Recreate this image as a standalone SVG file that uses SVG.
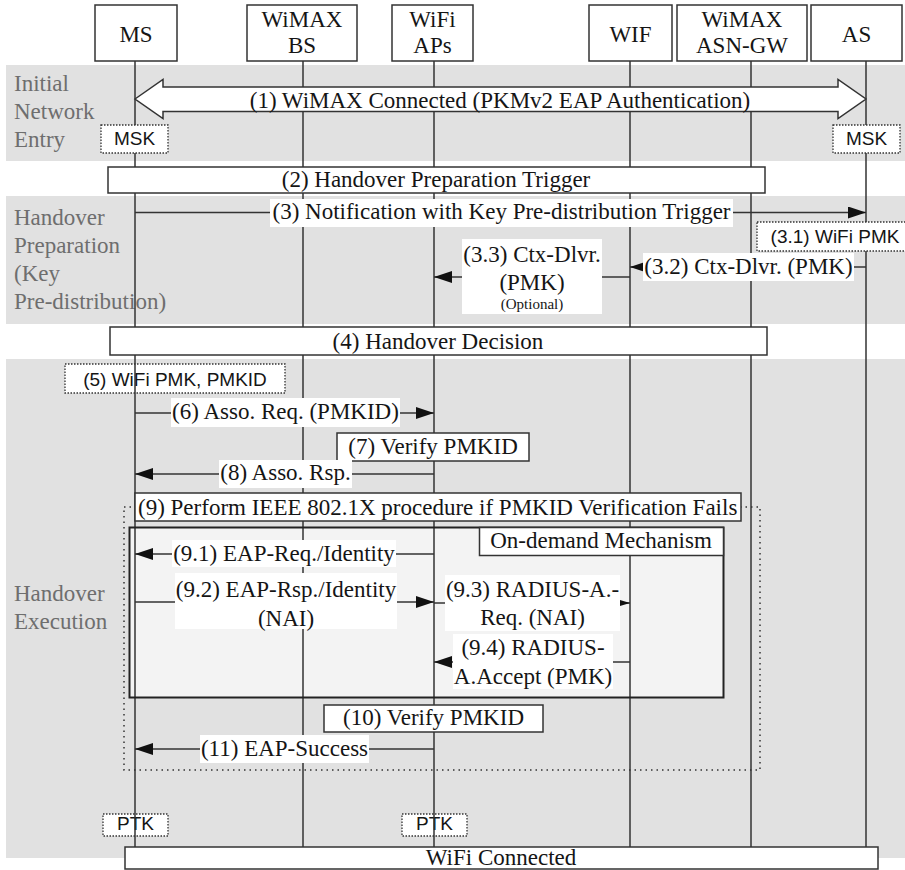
<svg xmlns="http://www.w3.org/2000/svg" width="905" height="870" viewBox="0 0 905 870">
<defs>
<style>
.t{font-family:"Liberation Serif","Times New Roman",serif;font-size:23px;fill:#151515}
.c{text-anchor:middle}
.band{font-family:"Liberation Serif","Times New Roman",serif;font-size:23px;fill:#6e6e6e}
.k{font-family:"Liberation Sans",Arial,sans-serif;font-size:19px;fill:#151515;text-anchor:middle}
.box{fill:#fff;stroke:#333;stroke-width:1.5}
.kbox{fill:#fff;stroke:#333;stroke-width:1.3;stroke-dasharray:1.5 1.5}
.life{stroke:#333;stroke-width:1.5}
.msg{stroke:#333;stroke-width:1.5;fill:none}
.bg{fill:#fff}
.gray{fill:#e1e1e1}
</style>
<marker id="ah" markerUnits="userSpaceOnUse" markerWidth="18" markerHeight="12" refX="18" refY="6" orient="auto">
<path d="M0,0 L18,6 L0,12 z" fill="#111"/>
</marker>
<marker id="ahs" markerUnits="userSpaceOnUse" markerWidth="10" markerHeight="6" refX="10" refY="3" orient="auto">
<path d="M0,0 L10,3 L0,6 z" fill="#111"/>
</marker>
</defs>
<rect width="905" height="870" fill="#fff"/>
<g id="phases">
<rect class="gray" x="6" y="65" width="899" height="96"/>
<rect class="gray" x="6" y="196" width="899" height="128"/>
<rect class="gray" x="6" y="359" width="899" height="499"/>
<text class="band" x="14" y="91">Initial</text>
<text class="band" x="14" y="119">Network</text>
<text class="band" x="14" y="147">Entry</text>
<text class="band" x="14" y="225">Handover</text>
<text class="band" x="14" y="253">Preparation</text>
<text class="band" x="14" y="281">(Key</text>
<text class="band" x="14" y="309">Pre-distribution)</text>
<text class="band" x="14" y="601">Handover</text>
<text class="band" x="14" y="629">Execution</text>
</g>
<g id="ondemand-fill">
<rect x="129.5" y="527.5" width="594" height="170" fill="#f3f3f3"/>
</g>
<g id="ieee-frame">
<rect x="124" y="507" width="636" height="263" fill="none" stroke="#333" stroke-width="1.5" stroke-dasharray="1.5 4"/>
</g>
<g id="key5">
<rect class="kbox" x="65" y="364" width="220" height="29"/>
<text class="k" x="175" y="386">(5) WiFi PMK, PMKID</text>
</g>
<g id="ptk-ms">
<rect class="kbox" x="103" y="814" width="65" height="22"/>
<text class="k" x="135.5" y="830">PTK</text>
</g>
<g id="ptk-ap">
<rect class="kbox" x="402" y="814" width="65" height="22"/>
<text class="k" x="434.5" y="830">PTK</text>
</g>
<g id="lifelines">
<line class="life" x1="135" y1="61" x2="135" y2="847"/>
<line class="life" x1="303" y1="61" x2="303" y2="847"/>
<line class="life" x1="434" y1="61" x2="434" y2="847"/>
<line class="life" x1="630" y1="61" x2="630" y2="847"/>
<line class="life" x1="751" y1="61" x2="751" y2="847"/>
<line class="life" x1="866" y1="61" x2="866" y2="847"/>
</g>
<g id="ondemand">
<rect x="129.5" y="527.5" width="594" height="170" fill="none" stroke="#222" stroke-width="2"/>
<rect class="box" x="479.5" y="527.5" width="244" height="28" stroke-width="2"/>
<text class="t c" x="601" y="548">On-demand Mechanism</text>
</g>
<g id="node-ms">
<rect class="box" x="95" y="5" width="82" height="56"/>
<text class="t c" x="136" y="42">MS</text>
</g>
<g id="node-bs">
<rect class="box" x="247" y="5" width="110" height="56"/>
<text class="t c" x="302" y="27">WiMAX</text>
<text class="t c" x="302" y="53">BS</text>
</g>
<g id="node-ap">
<rect class="box" x="392" y="5" width="81" height="56"/>
<text class="t c" x="432.5" y="27">WiFi</text>
<text class="t c" x="432.5" y="53">APs</text>
</g>
<g id="node-wif">
<rect class="box" x="589" y="5" width="83" height="56"/>
<text class="t c" x="630.5" y="42">WIF</text>
</g>
<g id="node-asn">
<rect class="box" x="677" y="5" width="130" height="56"/>
<text class="t c" x="742" y="27">WiMAX</text>
<text class="t c" x="742" y="53">ASN-GW</text>
</g>
<g id="node-as">
<rect class="box" x="811" y="5" width="91" height="56"/>
<text class="t c" x="856.5" y="42">AS</text>
</g>
<g id="msk-ms">
<rect class="kbox" x="101" y="125" width="67" height="28"/>
<text class="k" x="134.5" y="145">MSK</text>
</g>
<g id="msk-as">
<rect class="kbox" x="833" y="125" width="67" height="28"/>
<text class="k" x="866.5" y="145">MSK</text>
</g>
<g id="step2">
<rect class="box" x="108" y="167" width="657" height="26"/>
<text class="t c" x="436" y="187">(2) Handover Preparation Trigger</text>
</g>
<g id="key31">
<rect class="kbox" x="757" y="222" width="155" height="29"/>
<text class="k" x="835" y="243">(3.1) WiFi PMK</text>
</g>
<g id="step4">
<rect class="box" x="110" y="327" width="657" height="28"/>
<text class="t c" x="438" y="349">(4) Handover Decision</text>
</g>
<g id="step7">
<rect class="box" x="337" y="433" width="192" height="28"/>
<text class="t c" x="433" y="454">(7) Verify PMKID</text>
</g>
<g id="step9">
<rect class="box" x="135" y="493" width="606" height="28"/>
<text class="t" x="138" y="515">(9) Perform IEEE 802.1X procedure if PMKID Verification Fails</text>
</g>
<g id="step10">
<rect class="box" x="324" y="705" width="219" height="27"/>
<text class="t c" x="433.5" y="725">(10) Verify PMKID</text>
</g>
<g id="wifi-connected">
<rect class="box" x="125" y="847" width="753" height="22"/>
<text class="t c" x="501" y="865">WiFi Connected</text>
</g>
<g id="connectors">
<polygon points="135,99 163,79.5 163,87 838,87 838,79.5 866,99 838,118.5 838,111.5 163,111.5 163,118.5" fill="#fff" stroke="#333" stroke-width="1.5"/>
<text class="t c" x="500" y="108">(1) WiMAX Connected (PKMv2 EAP Authentication)</text>

<line class="msg" x1="135" y1="212.5" x2="866" y2="212.5" marker-end="url(#ah)"/>
<rect class="bg" x="270" y="199" width="463" height="28"/>
<text class="t c" x="501.5" y="219">(3) Notification with Key Pre-distribution Trigger</text>

<line class="msg" x1="866" y1="267" x2="630" y2="267" marker-end="url(#ah)"/>
<rect class="bg" x="643" y="253" width="211" height="28"/>
<text class="t c" x="748.5" y="274">(3.2) Ctx-Dlvr. (PMK)</text>

<line class="msg" x1="630" y1="277" x2="434" y2="277" marker-end="url(#ah)"/>
<rect class="bg" x="462" y="239" width="140" height="75"/>
<text class="t c" x="532" y="262">(3.3) Ctx-Dlvr.</text>
<text class="t c" x="532" y="290">(PMK)</text>
<text class="t c" x="532" y="309" style="font-size:15px">(Optional)</text>

<line class="msg" x1="135" y1="413" x2="434" y2="413" marker-end="url(#ah)"/>
<rect class="bg" x="171" y="398" width="229" height="29"/>
<text class="t c" x="285.5" y="419">(6) Asso. Req. (PMKID)</text>

<line class="msg" x1="434" y1="474" x2="135" y2="474" marker-end="url(#ah)"/>
<rect class="bg" x="219" y="460" width="133" height="28"/>
<text class="t c" x="285.5" y="480">(8) Asso. Rsp.</text>

<line class="msg" x1="434" y1="554" x2="135" y2="554" marker-end="url(#ah)"/>
<rect class="bg" x="172" y="540" width="224" height="27"/>
<text class="t c" x="284" y="561">(9.1) EAP-Req./Identity</text>

<line class="msg" x1="135" y1="602" x2="434" y2="602" marker-end="url(#ah)"/>
<rect class="bg" x="175" y="573" width="222" height="56"/>
<text class="t c" x="286" y="597">(9.2) EAP-Rsp./Identity</text>
<text class="t c" x="286" y="626">(NAI)</text>

<line class="msg" x1="434" y1="603" x2="630" y2="603" marker-end="url(#ahs)"/>
<rect class="bg" x="445" y="575" width="175" height="56"/>
<text class="t c" x="532.5" y="597">(9.3) RADIUS-A.-</text>
<text class="t c" x="532.5" y="625">Req. (NAI)</text>

<line class="msg" x1="630" y1="662" x2="434" y2="662" marker-end="url(#ah)"/>
<rect class="bg" x="453" y="634" width="160" height="55"/>
<text class="t c" x="533" y="655">(9.4) RADIUS-</text>
<text class="t c" x="533" y="684">A.Accept (PMK)</text>

<line class="msg" x1="434" y1="749" x2="135" y2="749" marker-end="url(#ah)"/>
<rect class="bg" x="200" y="735" width="169" height="28"/>
<text class="t c" x="284.5" y="756">(11) EAP-Success</text>
</g>
</svg>
